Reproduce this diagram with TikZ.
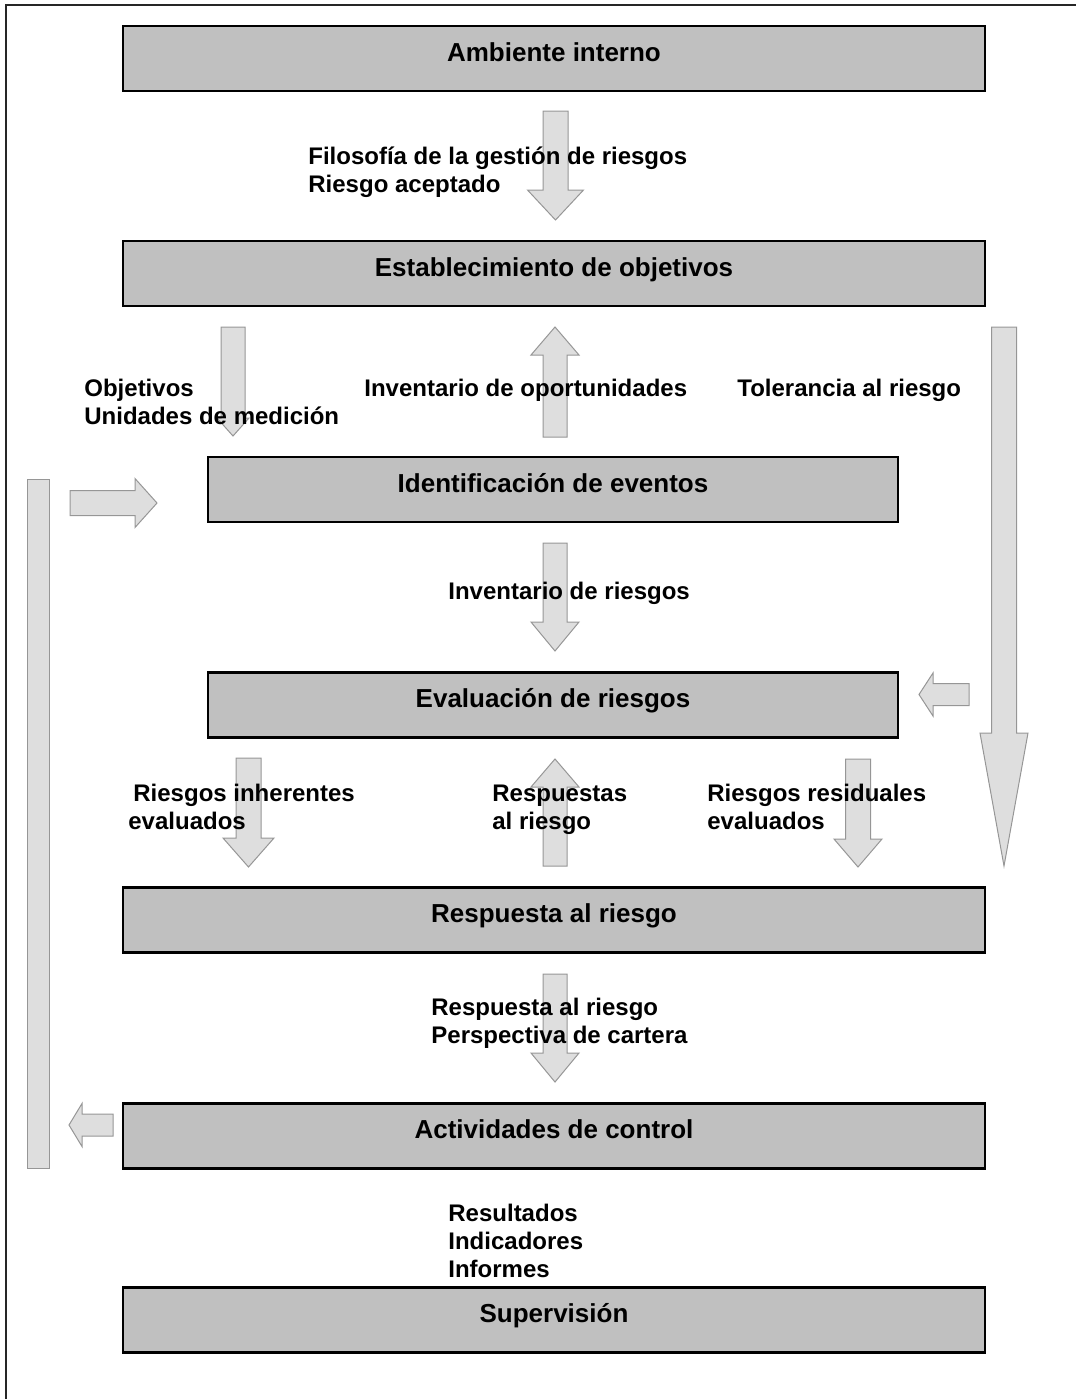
\documentclass[tikz,border=0pt]{standalone}
\usepackage{fontspec}
\setmainfont{Liberation Sans}
\definecolor{boxgray}{RGB}{192,192,192}
\definecolor{arrowfill}{RGB}{222,222,222}
\definecolor{arrowline}{RGB}{150,150,150}
\newcommand\stagefont{\fontsize{13}{14}\selectfont\bfseries}
\newcommand\flowfont{\fontsize{12}{14}\selectfont\bfseries}
% vertical block arrow: {x centre}{y tail}{y head base}{y tip}{shaft half width}{head half width}
\newcommand\varrow[6]{\path[blk] ({#1-#5},#2) -- ({#1+#5},#2) -- ({#1+#5},#3) -- ({#1+#6},#3) -- (#1,#4) -- ({#1-#6},#3) -- ({#1-#5},#3) -- cycle;}
% horizontal block arrow: {y centre}{x tail}{x head base}{x tip}{shaft half width}{head half width}
\newcommand\harrow[6]{\path[blk] (#2,{#1-#5}) -- (#3,{#1-#5}) -- (#3,{#1-#6}) -- (#4,#1) -- (#3,{#1+#6}) -- (#3,{#1+#5}) -- (#2,{#1+#5}) -- cycle;}
\begin{document}
\begin{tikzpicture}[x=0.5pt,y=-0.5pt,
  stage/.style={draw=black, line width=1.3pt, fill=boxgray, inner xsep=0pt, inner ysep=0pt,
    text height=17.5pt, text depth=15pt, font=\stagefont},
  wide/.style={minimum width=431pt},
  narrow/.style={minimum width=345pt},
  blk/.style={fill=arrowfill, draw=arrowline, line width=0.5pt, line join=miter},
  lbl/.style={anchor=base west, align=left, inner sep=0pt, font=\flowfont}]
\useasboundingbox (0,0) rectangle (1076,1399);

% page frame (top and left edges)
\draw[line width=0.8pt, black!85] (6,1399) -- (6,5) -- (1076,5);

% process stages
\node[stage,wide]   (amb) at (554,58.5)  {Ambiente interno};
\node[stage,wide]   (est) at (554,273.5) {Establecimiento de objetivos};
\node[stage,narrow] (ide) at (553,489.5) {Identificación de eventos};
\node[stage,narrow] (eva) at (553,705)   {Evaluación de riesgos};
\node[stage,wide]   (res) at (554,920)   {Respuesta al riesgo};
\node[stage,wide]   (act) at (554,1136)  {Actividades de control};
\node[stage,wide]   (sup) at (554,1320)  {Supervisión};

% block arrows between stages
\varrow{555.5}{111}{190}{220}{12.5}{28}
\varrow{233}{327}{418}{436}{12}{16}
\varrow{555}{437}{355}{327}{12}{24}
\varrow{1004}{327}{733}{866}{12.5}{24}
\varrow{555}{543}{622}{651}{12}{24}
\varrow{248.5}{758}{838}{867}{12.5}{25.5}
\varrow{555}{866}{787}{759}{12}{24}
\varrow{858}{759}{839}{867}{12.5}{24}
\varrow{555}{974}{1053}{1082}{12}{24}

% feedback loop on the left
\path[blk] (27,479) rectangle (49,1168);
\harrow{503}{70}{135}{157}{12.5}{24.5}
\harrow{1125}{113}{82}{69}{11}{21.5}
\harrow{694.5}{969}{933}{919}{11}{21.5}

% information flows (anchored on the baseline of the last line)
\node[lbl] (l1)  at (308,192)  {Filosofía de la gestión de riesgos\\Riesgo aceptado};
\node[lbl] (l2)  at (84,424)   {Objetivos\\Unidades de medición};
\node[lbl] (l3)  at (364,396)  {Inventario de oportunidades};
\node[lbl] (l4)  at (737,396)  {Tolerancia al riesgo};
\node[lbl] (l5)  at (448,599)  {Inventario de riesgos};
\node[lbl] (l6)  at (128,829)  {\hspace{2.5pt}Riesgos inherentes\\evaluados};
\node[lbl] (l7)  at (492,829)  {Respuestas\\al riesgo};
\node[lbl] (l8)  at (707,829)  {Riesgos residuales\\evaluados};
\node[lbl] (l9)  at (431,1043) {Respuesta al riesgo\\Perspectiva de cartera};
\node[lbl] (l10) at (448,1277) {Resultados\\Indicadores\\Informes};
\end{tikzpicture}
\end{document}
